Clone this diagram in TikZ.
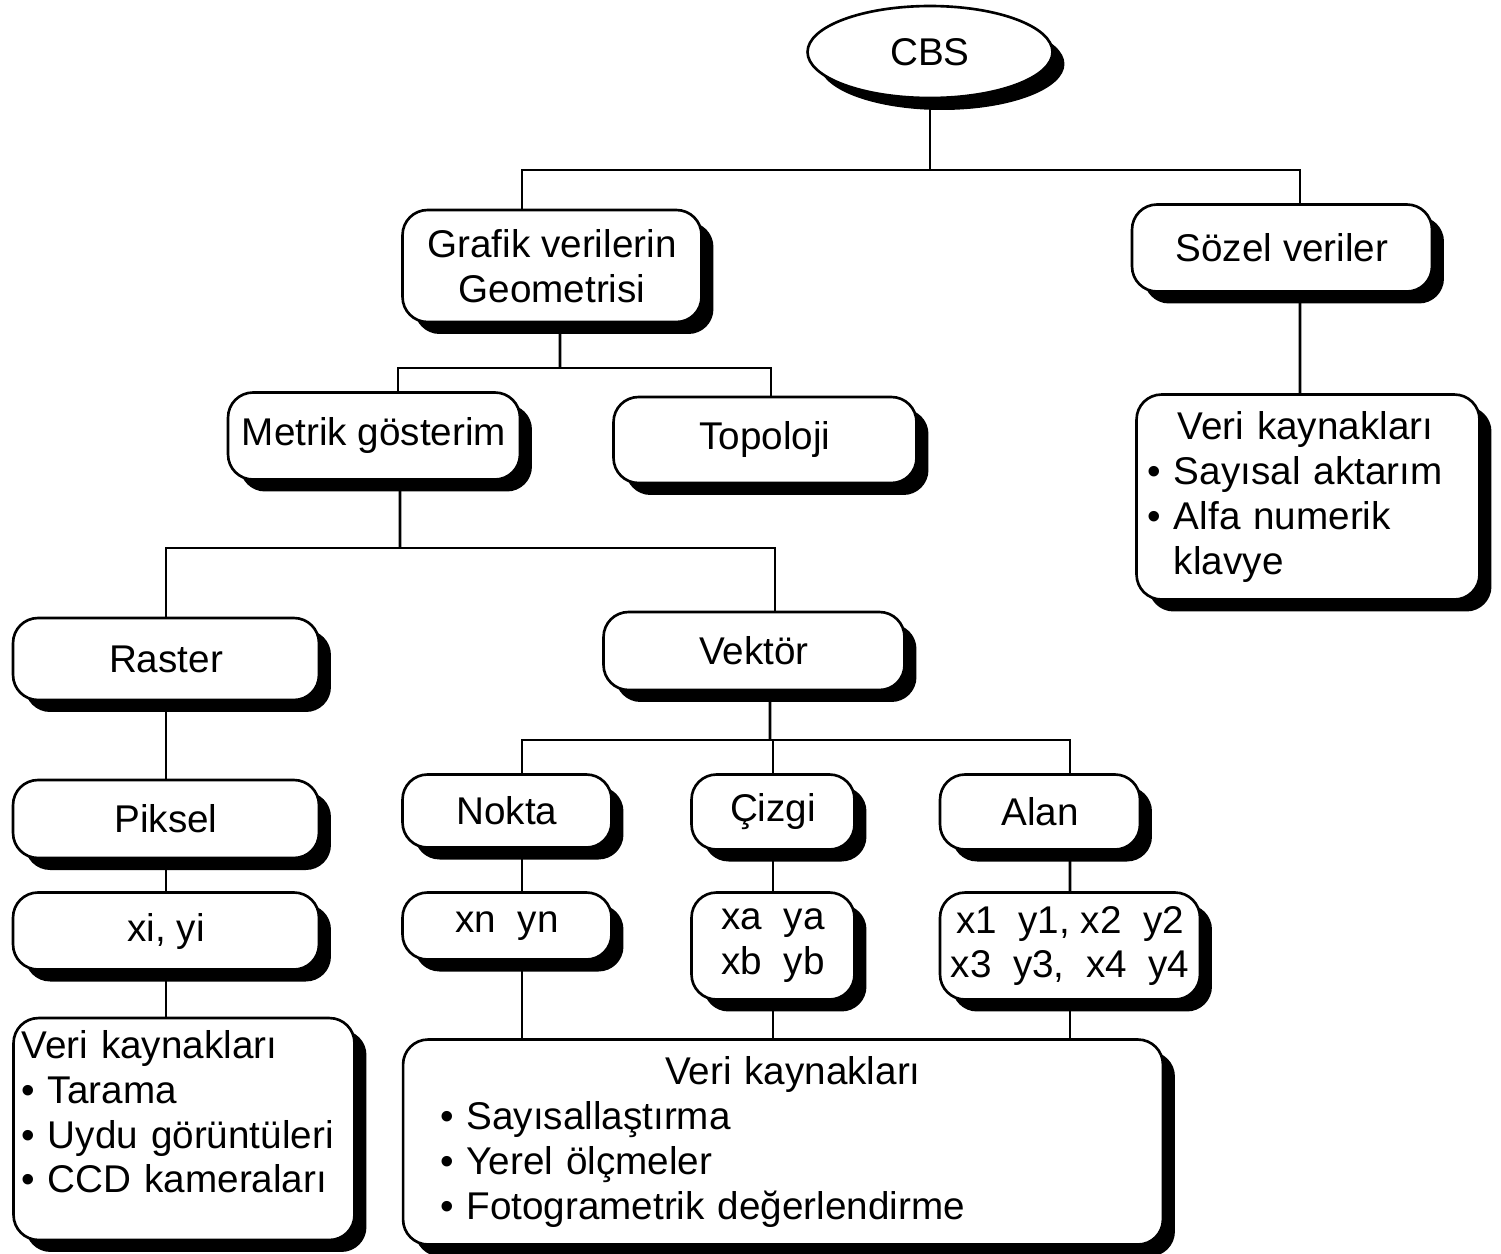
\documentclass[tikz,border=0pt]{standalone}
\usepackage{fontspec}
\setmainfont{Liberation Sans}
\usetikzlibrary{shapes.geometric,shadows}
\newcommand{\yazi}{\fontsize{22}{25.6}\selectfont}

\begin{document}
\begin{tikzpicture}
        [x=0.02cm,y=-0.02cm,line width=1.5pt,
         every node/.style={draw,fill=white,rounded corners=0.5cm,font=\yazi,inner sep=0.1cm,
           drop shadow={shadow xshift=0.24cm,shadow yshift=-0.24cm,opacity=1,fill=black}}]

        \useasboundingbox (0,0) rectangle (1501,1254);

        \node[ellipse,minimum width=4.9cm,minimum height=1.84cm] (cbs) at (930,52) {CBS};
        \node[align=center,minimum width=5.98cm,minimum height=2.24cm] (grafik) at (552,266) {Grafik verilerin\\Geometrisi};
        \node[minimum width=6cm,minimum height=1.74cm] (sozel) at (1282,248) {Sözel veriler};
        \node[align=left,text width=6.42cm,inner xsep=0.22cm,minimum height=4.1cm] (verisag) at (1308,497)
          {\hspace*{0.6cm}Veri kaynakları\\• Sayısal aktarım\\• Alfa numerik\\\phantom{• }klavye};
        \node[minimum width=5.84cm,minimum height=1.74cm] (metrik) at (374,436) {Metrik gösterim};
        \node[minimum width=6.06cm,minimum height=1.72cm] (topoloji) at (765,440) {Topoloji};
        \node[minimum width=6.12cm,minimum height=1.64cm] (raster) at (166,659) {Raster};
        \node[minimum width=6.02cm,minimum height=1.56cm] (vektor) at (754,651) {Vektör};
        \node[minimum width=6.12cm,minimum height=1.56cm] (piksel) at (166,819) {Piksel};
        \node[minimum width=6.12cm,minimum height=1.54cm] (xiyi) at (166,931) {xi, yi};
        \node[align=left,text width=6.5cm,inner xsep=0.16cm,inner ysep=0.24cm] (verisol) at (184,1129)
          {Veri kaynakları\\• Tarama\\• Uydu görüntüleri\\• CCD kameraları\rule[-0.7cm]{0pt}{0.7cm}};
        \node[minimum width=4.18cm,minimum height=1.46cm] (nokta) at (507,811) {Nokta};
        \node[minimum width=3.26cm,minimum height=1.5cm] (cizgi) at (773,812) {Çizgi};
        \node[minimum width=4cm,minimum height=1.5cm] (alan) at (1040,812) {Alan};
        \node[minimum width=4.18cm,minimum height=1.34cm] (xnyn) at (507,926) {xn~~yn};
        \node[align=center,minimum width=3.26cm,minimum height=2.14cm] (xaya) at (773,946) {xa~~ya\\xb~~yb};
        \node[align=center,inner xsep=0.05cm,minimum width=5.2cm,minimum height=2.14cm] (x1y1) at (1070,946)
          {x1~~y1, x2~~y2\\x3~~y3,~~x4~~y4};
        \node[align=left,text width=13.72cm,inner xsep=0.74cm,minimum height=4.1cm] (verialt) at (783,1142)
          {\hspace*{4.5cm}Veri kaynakları\\• Sayısallaştırma\\• Yerel ölçmeler\\• Fotogrametrik değerlendirme};

        \coordinate (j1) at (930,170);
        \coordinate (j2) at (560,368);
        \coordinate (j3) at (400,548);
        \coordinate (j4) at (770,740);

        \draw (cbs.south) -- (j1);
        \draw ([xshift=-0.6cm]grafik.north) |- (j1) -| ([xshift=0.36cm]sozel.north);
        \draw ([xshift=0.36cm]sozel.south) -- ([xshift=-0.16cm]verisag.north);
        \draw ([xshift=0.16cm]grafik.south) -- (j2);
        \draw ([xshift=0.48cm]metrik.north) |- (j2) -| ([xshift=0.12cm]topoloji.north);
        \draw ([xshift=0.52cm]metrik.south) -- (j3);
        \draw (raster.north) |- (j3) -| ([xshift=0.42cm]vektor.north);
        \draw (raster.south) -- (piksel.north);
        \draw (piksel.south) -- (xiyi.north);
        \draw (xiyi.south) -- (xiyi.south |- verisol.north);
        \draw ([xshift=0.32cm]vektor.south) -- (j4);
        \draw ([xshift=0.3cm]nokta.north) |- (j4) -| ([xshift=0.6cm]alan.north);
        \draw (cizgi.north) -- (cizgi.north |- j4);
        \draw ([xshift=0.3cm]nokta.south) -- ([xshift=0.3cm]xnyn.north);
        \draw (cizgi.south) -- (xaya.north);
        \draw ([xshift=0.6cm]alan.south) -- (x1y1.north);
        \draw ([xshift=0.3cm]xnyn.south) -- ([xshift=0.3cm]xnyn.south |- verialt.north);
        \draw (xaya.south) -- (xaya.south |- verialt.north);
        \draw (x1y1.south) -- (x1y1.south |- verialt.north);
      \end{tikzpicture}
\end{document}
